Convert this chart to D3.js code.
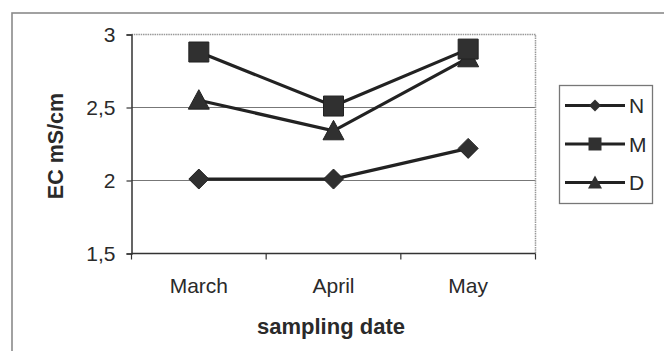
<!DOCTYPE html>
<html><head><meta charset="utf-8">
<script src="https://cdn.jsdelivr.net/npm/d3@7"></script>
<style>body{margin:0;background:#fff}svg{display:block}text{font-family:"Liberation Sans",Arial,sans-serif;fill:#2a2a2a}</style>
</head><body>
<svg id="c" width="664" height="351"></svg>
<script>
const categories = ["March", "April", "May"];
const seriesNames = ["N", "M", "D"];
const valuesN = [2.01, 2.01, 2.22];
const valuesM = [2.88, 2.51, 2.90];
const valuesD = [2.55, 2.34, 2.84];
const yTicks = [1.5, 2, 2.5, 3];
const yTickLabels = ["1,5", "2", "2,5", "3"];
const markerTypes = ["diamond", "square", "triangle"];
const yTitle = "EC mS/cm";
const xTitle = "sampling date";

const svg = d3.select("#c");
const plot = {left: 131.5, right: 535.5, top: 34.5, bottom: 253.5};

// outer frame
svg.append("rect").attr("x", 12).attr("y", 13).attr("width", 700).attr("height", 400)
  .attr("fill", "none").attr("stroke", "#8a8a8a").attr("stroke-width", 1.6);

const x = d3.scaleBand().domain(categories).range([plot.left, plot.right]).paddingInner(0).paddingOuter(0);
const y = d3.scaleLinear().domain([1.5, 3]).range([plot.bottom, plot.top]);

// gridlines
svg.append("g").selectAll("line").data(yTicks.filter(t => t > 1.5 && t < 3)).join("line")
  .attr("x1", plot.left).attr("x2", plot.right).attr("y1", d => y(d)).attr("y2", d => y(d))
  .attr("stroke", "#777").attr("stroke-width", 1.2);

// plot border (top, right)
svg.append("path").attr("d", `M${plot.left},${y(3)}H${plot.right}V${plot.bottom}`)
  .attr("fill", "none").attr("stroke", "#999").attr("stroke-width", 1.5).attr("stroke-dasharray", "1.5,0.8");

// y axis
const yAxis = d3.axisLeft(y).tickValues(yTicks).tickSize(5).tickPadding(11)
  .tickFormat((d, i) => yTickLabels[i]);
const gy = svg.append("g").attr("transform", `translate(${plot.left},0)`).call(yAxis);
gy.select(".domain").attr("stroke", "#333").attr("stroke-width", 1.5);
gy.selectAll(".tick line").attr("stroke", "#333").attr("stroke-width", 1.2);
gy.selectAll(".tick text").attr("font-size", 21).attr("fill", "#2a2a2a")
  .style("font-family", '"Liberation Sans",Arial,sans-serif');

// x axis
const xTickScale = d3.scalePoint().domain(d3.range(categories.length + 1)).range([plot.left, plot.right]);
const gx = svg.append("g").attr("transform", `translate(0,${plot.bottom})`);
gx.append("line").attr("x1", plot.left).attr("x2", plot.right).attr("stroke", "#333").attr("stroke-width", 1.5);
gx.selectAll("line.t").data(xTickScale.domain()).join("line").attr("class", "t")
  .attr("x1", d => xTickScale(d)).attr("x2", d => xTickScale(d)).attr("y1", 0).attr("y2", 6)
  .attr("stroke", "#333").attr("stroke-width", 1.2);
gx.selectAll("text").data(categories).join("text")
  .attr("x", d => x(d) + x.bandwidth() / 2).attr("y", 39)
  .attr("text-anchor", "middle").attr("font-size", 21).text(d => d);

// titles
svg.append("text").attr("transform", `translate(63,146) rotate(-90)`).attr("text-anchor", "middle")
  .attr("font-size", 21.5).attr("font-weight", "bold").text(yTitle);
svg.append("text").attr("x", 331).attr("y", 334).attr("text-anchor", "middle")
  .attr("font-size", 22).attr("font-weight", "bold").text(xTitle);

// markers
function markerPath(type, s) {
  const h = s / 2;
  if (type === "square") return `M${-h},${-h}H${h}V${h}H${-h}Z`;
  if (type === "diamond") return `M0,${-h}L${h},0L0,${h}L${-h},0Z`;
  return `M0,${-h * 1.0}L${h},${h * 0.85}L${-h},${h * 0.85}Z`;
}
const allSeries = [valuesN, valuesM, valuesD];
const line = d3.line().x((d, i) => x(categories[i]) + x.bandwidth() / 2).y(d => y(d));
const sizes = {square: 20, diamond: 20, triangle: 21};

allSeries.forEach((vals, si) => {
  svg.append("path").attr("d", line(vals)).attr("fill", "none")
    .attr("stroke", "#222").attr("stroke-width", 3.2);
});
// draw in order so M (square) is on top of D at May
[0, 2, 1].forEach(si => {
  const vals = allSeries[si];
  svg.append("g").selectAll("path").data(vals).join("path")
    .attr("transform", (d, i) => `translate(${x(categories[i]) + x.bandwidth() / 2},${y(d)})`)
    .attr("d", markerPath(markerTypes[si], sizes[markerTypes[si]]))
    .attr("fill", "#303030").attr("stroke", "#222").attr("stroke-width", 1);
});

// legend
const lg = svg.append("g");
lg.append("rect").attr("x", 559.5).attr("y", 85.5).attr("width", 93).attr("height", 118)
  .attr("fill", "#fff").attr("stroke", "#777").attr("stroke-width", 1.3);
const ly = d3.scalePoint().domain(seriesNames).range([105.5, 182.5]);
const lsizes = {square: 13, diamond: 12, triangle: 14};
seriesNames.forEach((n, i) => {
  const yy = ly(n);
  lg.append("line").attr("x1", 565).attr("x2", 625).attr("y1", yy).attr("y2", yy)
    .attr("stroke", "#222").attr("stroke-width", 3);
  lg.append("path").attr("transform", `translate(595,${yy})`)
    .attr("d", markerPath(markerTypes[i], lsizes[markerTypes[i]])).attr("fill", "#303030");
  lg.append("text").attr("x", 629).attr("y", yy + 7.5).attr("font-size", 21).text(n);
});
</script>
</body></html>
